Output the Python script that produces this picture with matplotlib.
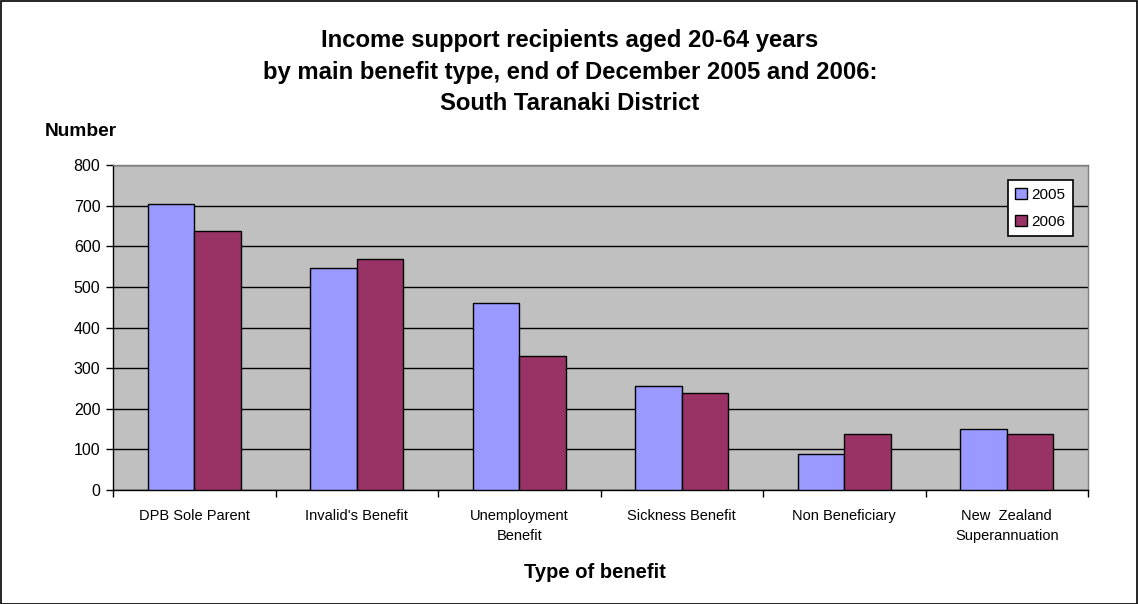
import matplotlib
matplotlib.use("Agg")
import matplotlib.pyplot as plt
import numpy as np
from matplotlib.patches import Rectangle

categories = ["DPB Sole Parent", "Invalid's Benefit", "Unemployment\nBenefit",
              "Sickness Benefit", "Non Beneficiary", "New  Zealand\nSuperannuation"]
series_names = ["2005", "2006"]
values_2005 = [704, 547, 461, 257, 89, 149]
values_2006 = [637, 569, 330, 238, 138, 138]
colors = ["#9999FF", "#993366"]
yticks = [0, 100, 200, 300, 400, 500, 600, 700, 800]

plt.rcParams['font.family'] = ['Liberation Sans', 'DejaVu Sans']

W, H = 1138, 604
fig = plt.figure(figsize=(W / 100, H / 100), dpi=100)
fig.patches.append(Rectangle((0.5 / W, 0.5 / H), 1 - 1.5 / W, 1 - 1.5 / H,
                             transform=fig.transFigure, fill=False,
                             edgecolor="black", linewidth=1.2))

left, right, top, bottom = 113, 1088, 165, 490
ax = fig.add_axes([left / W, 1 - bottom / H, (right - left) / W, (bottom - top) / H])
ax.set_facecolor("#C0C0C0")

x = np.arange(len(categories))
bw = 0.285
ax.bar(x - bw / 2, values_2005, bw, color=colors[0], edgecolor="black", linewidth=1.0,
       label=series_names[0], zorder=3)
ax.bar(x + bw / 2, values_2006, bw, color=colors[1], edgecolor="black", linewidth=1.0,
       label=series_names[1], zorder=3)

ax.set_xlim(-0.5, len(categories) - 0.5)
ax.set_ylim(0, 800)
ax.set_yticks(yticks)
ax.yaxis.grid(True, color="black", linewidth=1.0, zorder=1)
ax.set_axisbelow(True)

ax.set_xticks(x)
ax.set_xticklabels(categories, fontsize=10.5, linespacing=1.5, va="top")
ax.tick_params(axis="x", which="major", length=0, pad=14)
ax.set_xticks(np.arange(-0.5, len(categories)), minor=True)
ax.tick_params(axis="x", which="minor", length=5, width=1, direction="out")
ax.tick_params(axis="y", length=5, width=1, direction="out", labelsize=11.5, pad=4)

for s in ["left", "bottom"]:
    ax.spines[s].set_color("black")
    ax.spines[s].set_linewidth(1.0)
for s in ["top", "right"]:
    ax.spines[s].set_color("#808080")
    ax.spines[s].set_linewidth(1.0)

leg = ax.legend(loc="upper right", bbox_to_anchor=((1073 - left) / (right - left), (bottom - 180) / (bottom - top)),
                fontsize=11, frameon=True, fancybox=False, framealpha=1,
                edgecolor="black", handlelength=0.75, handleheight=0.75,
                handletextpad=0.3, borderpad=0.5, labelspacing=0.85, borderaxespad=0)
leg.get_frame().set_linewidth(1.2)

title_lines = ["Income support recipients aged 20-64 years",
               "by main benefit type, end of December 2005 and 2006:",
               "South Taranaki District"]
for i, t in enumerate(title_lines):
    fig.text(570 / W, 1 - (41 + 31 * i) / H, t,
             ha="center", va="center", fontsize=17.2, fontweight="bold")

fig.text(45 / W, 1 - 131 / H, "Number", ha="left", va="center", fontsize=13.8, fontweight="bold")
fig.text(595 / W, 1 - 572 / H, "Type of benefit", ha="center", va="center", fontsize=14.5, fontweight="bold")

fig.savefig("out.png", dpi=100)
